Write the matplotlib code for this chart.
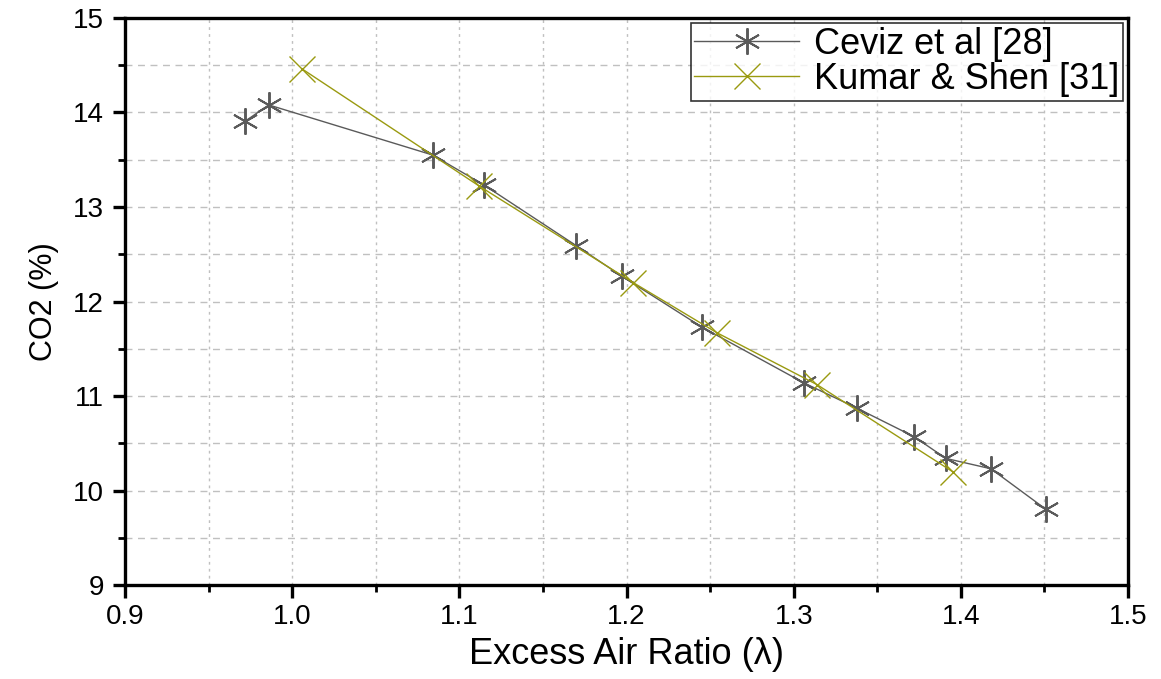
import matplotlib
matplotlib.use('Agg')
import matplotlib.pyplot as plt
from matplotlib.ticker import MultipleLocator

plt.rcParams['font.family'] = ['Liberation Sans', 'DejaVu Sans']

# Ceviz et al [28]
ceviz_x = [0.972, 0.986, 1.084, 1.115, 1.170, 1.197, 1.245, 1.306, 1.338, 1.372, 1.391, 1.418, 1.451]
ceviz_y = [13.91, 14.08, 13.55, 13.23, 12.59, 12.27, 11.73, 11.14, 10.87, 10.57, 10.34, 10.23, 9.80]

# Kumar & Shen [31]
kumar_x = [1.006, 1.112, 1.204, 1.254, 1.314, 1.395]
kumar_y = [14.46, 13.22, 12.20, 11.67, 11.12, 10.20]

xticks = [0.9, 1.0, 1.1, 1.2, 1.3, 1.4, 1.5]
yticks = [9, 10, 11, 12, 13, 14, 15]

fig = plt.figure(figsize=(11.61, 6.79), dpi=100)
ax = fig.add_axes([0.1077, 0.1384, 0.8639, 0.8351])

ax.plot(ceviz_x, ceviz_y, color='#5a5a5a', lw=1.0, marker=(6, 2, 0),
        ms=19, mew=1.4, label='Ceviz et al [28]')
ax.plot(kumar_x, kumar_y, color='#9a9a10', lw=1.0, marker='x',
        ms=19, mew=1.0, label='Kumar & Shen [31]')

ax.set_xlim(0.9, 1.5)
ax.set_ylim(9, 15)
ax.set_xticks(xticks)
ax.set_xticklabels([f'{v:.1f}' for v in xticks])
ax.set_yticks(yticks)
ax.xaxis.set_minor_locator(MultipleLocator(0.05))
ax.yaxis.set_minor_locator(MultipleLocator(0.5))

ax.grid(axis='x', which='both', color='#c0c0c0', ls=(0, (2, 3)), lw=1.0)
ax.grid(axis='y', which='both', color='#c0c0c0', ls=(0, (5, 4)), lw=1.0)
ax.set_axisbelow(True)

for side in ['left', 'right', 'top', 'bottom']:
    ax.spines[side].set_linewidth(2.4)

ax.tick_params(which='major', direction='out', length=9, width=2.4,
               labelsize=20, top=False, right=False)
ax.tick_params(which='minor', direction='out', length=5, width=2.0,
               top=False, right=False)
ax.tick_params(axis='x', which='major', pad=5)
ax.tick_params(axis='y', which='major', pad=6)

ax.set_xlabel('Excess Air Ratio (λ)', fontsize=26, labelpad=5)
ax.set_ylabel('CO2 (%)', fontsize=22, labelpad=10)

leg = ax.legend(loc='upper right', fontsize=26, frameon=True, fancybox=False,
                borderaxespad=0.15, handlelength=2.9, borderpad=0.1,
                labelspacing=0.0, handletextpad=0.4)
leg.get_frame().set_edgecolor('black')
leg.get_frame().set_linewidth(1.2)

fig.savefig('out.png', dpi=100)
